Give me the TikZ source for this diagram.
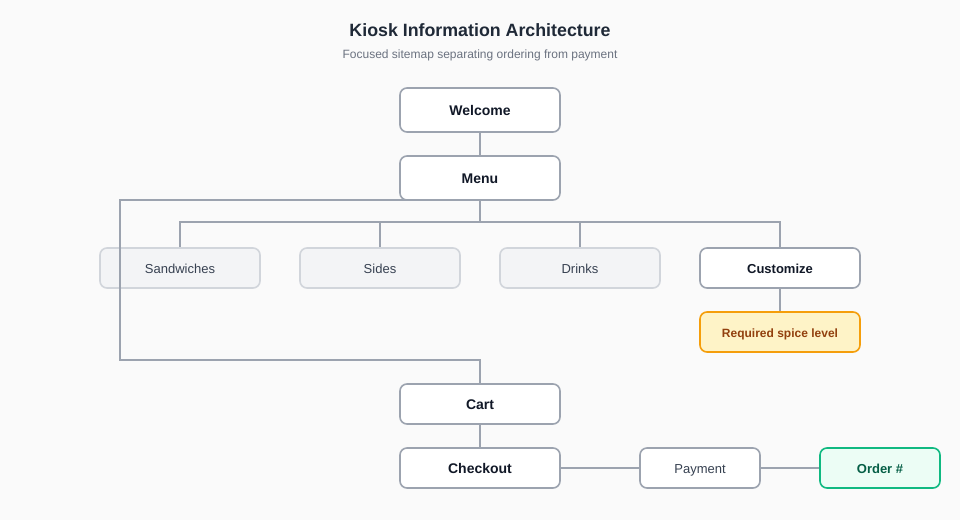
\documentclass[tikz,border=0pt]{standalone}
\usepackage{fontspec}
\setmainfont{Liberation Sans}
\definecolor{bgc}{HTML}{FAFAFA}
\definecolor{edgec}{HTML}{9CA3AF}
\definecolor{titlec}{HTML}{1F2937}
\definecolor{subc}{HTML}{6B7280}
\definecolor{darkt}{HTML}{111827}
\definecolor{grayfill}{HTML}{F3F4F6}
\definecolor{grayborder}{HTML}{D1D5DB}
\definecolor{grayt}{HTML}{374151}
\definecolor{amberfill}{HTML}{FEF3C7}
\definecolor{amberborder}{HTML}{F59E0B}
\definecolor{ambert}{HTML}{92400E}
\definecolor{greenfill}{HTML}{ECFDF5}
\definecolor{greenborder}{HTML}{10B981}
\definecolor{greent}{HTML}{065F46}
\tikzset{
  base/.style={rectangle, rounded corners=7pt, line width=1.6pt, minimum height=44pt, inner sep=0pt, text height=11.5pt, text depth=0pt, font=\fontsize{13}{15}\selectfont},
  mainbox/.style={base, draw=edgec, fill=white, text=darkt, minimum width=160pt, font=\fontsize{14}{16}\selectfont\bfseries},
  subbox/.style={mainbox, font=\fontsize{13}{15}\selectfont\bfseries, minimum height=40pt},
  catbox/.style={base, draw=grayborder, fill=grayfill, text=grayt, minimum width=160pt, minimum height=40pt},
  notebox/.style={base, draw=amberborder, fill=amberfill, text=ambert, minimum width=160pt, minimum height=40pt, font=\fontsize{12}{14}\selectfont\bfseries},
  paybox/.style={base, draw=edgec, fill=white, text=grayt, minimum width=120pt, minimum height=40pt},
  orderbox/.style={base, draw=greenborder, fill=greenfill, text=greent, minimum width=120pt, minimum height=40pt, font=\fontsize{13}{15}\selectfont\bfseries},
  conn/.style={draw=edgec, line width=1.6pt},
}
\begin{document}
\begin{tikzpicture}[x=1pt,y=-1pt]
\path[fill=bgc] (0,0) rectangle (960,520);
\useasboundingbox (0,0) rectangle (960,520);
\node[text=titlec, font=\fontsize{17.8}{20}\selectfont\bfseries] (title) at (480,30) {Kiosk Information Architecture};
\node[text=subc, font=\fontsize{12}{14}\selectfont] (sub) at (480,55) {Focused sitemap separating ordering from payment};
\coordinate (bus) at (480,222);
\coordinate (menubot) at (480,200);
\coordinate (lefttop) at (120,200);
\coordinate (leftbot) at (120,360);
\coordinate (cartin) at (480,360);
\node[mainbox] (welcome) at (480,110) {Welcome};
\node[mainbox] (menu) at (480,178) {Menu};
\node[catbox] (sand) at (180,268) {Sandwiches};
\node[catbox] (sides) at (380,268) {Sides};
\node[catbox] (drinks) at (580,268) {Drinks};
\node[subbox] (cust) at (780,268) {Customize};
\node[notebox] (spice) at (780,332) {Required spice level};
\node[mainbox, minimum height=40pt] (cart) at (480,404) {Cart};
\node[mainbox, minimum height=40pt] (checkout) at (480,468) {Checkout};
\node[paybox] (pay) at (700,468) {Payment};
\node[orderbox] (order) at (880,468) {Order \#};
\draw[conn] (welcome.south) -- (menu.north);
\draw[conn] (menu.south) -- (bus);
\draw[conn] (sand.north) |- (bus) -| (cust.north);
\draw[conn] (sides.north) -- (sides.north |- bus);
\draw[conn] (drinks.north) -- (drinks.north |- bus);
\draw[conn] (cust.south) -- (spice.north);
\draw[conn] (menubot) -- (lefttop) -- (leftbot) -- (cartin) -- (cart.north);
\draw[conn] (cart.south) -- (checkout.north);
\draw[conn] (checkout.east) -- (pay.west);
\draw[conn] (pay.east) -- (order.west);
\end{tikzpicture}
\end{document}
